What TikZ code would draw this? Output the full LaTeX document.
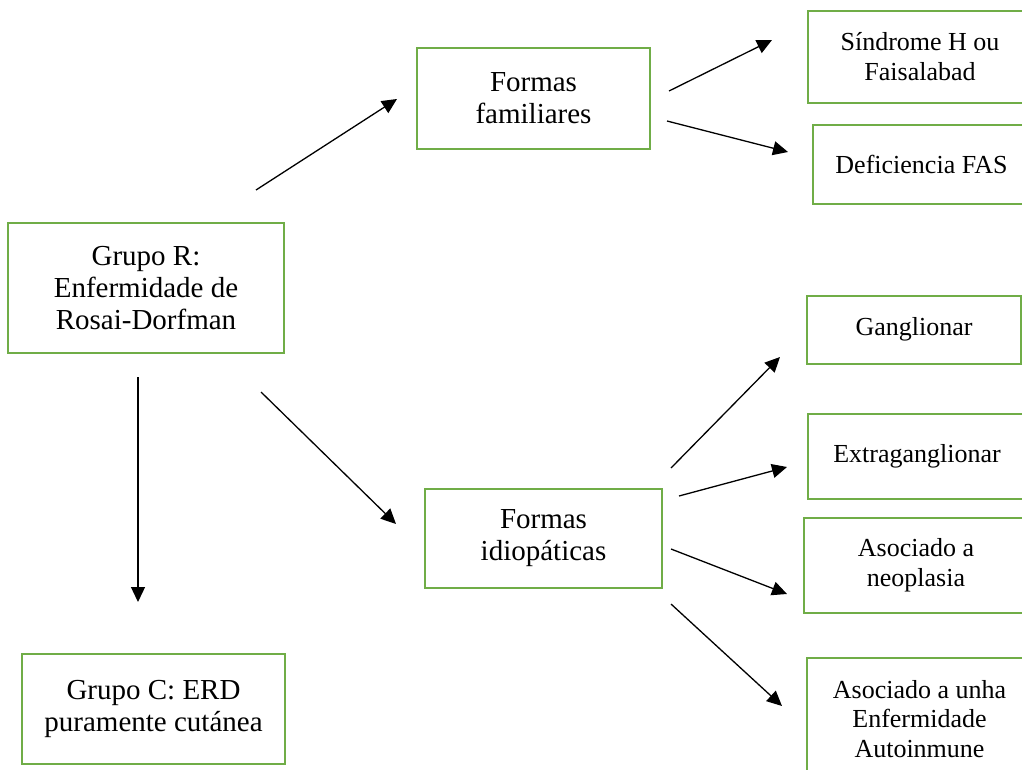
\documentclass[tikz,border=0pt]{standalone}
\usepackage{fontspec}
\setmainfont{Liberation Serif}
\usetikzlibrary{arrows.meta}
\definecolor{boxgreen}{HTML}{70AD47}
\tikzset{
  box/.style={draw=boxgreen, line width=2pt, fill=white, inner sep=0pt, align=center,
    font=\fontsize{29}{32}\selectfont},
  sbox/.style={box, font=\fontsize{26}{29.5}\selectfont},
  arr/.style={line width=1.3pt, -{Triangle[length=15pt,width=14pt]}}
}
\begin{document}
\begin{tikzpicture}[x=1pt,y=-1pt]
\useasboundingbox (0,0) rectangle (1022,769);
\clip (0,0) rectangle (1022,769);
\fill[white] (0,0) rectangle (1022,769);
% main boxes
\node[box, minimum width=276pt, minimum height=130pt] (R) at (146,288) {Grupo R:\\Enfermidade de\\Rosai-Dorfman};
\node[box, minimum width=233pt, minimum height=101pt] (FF) at (533.5,98) {Formas\\familiares};
\node[box, minimum width=237pt, minimum height=99pt] (FI) at (543.5,538) {Formas\\idiopáticas};
\node[box, minimum width=263pt, minimum height=110pt] (C) at (153.5,708.5) {Grupo C: ERD\\puramente cutánea};
% right boxes
\node[sbox, minimum width=224pt, minimum height=92pt] (S) at (920,56.5) {Síndrome H ou\\Faisalabad};
\node[sbox, minimum width=217pt, minimum height=79pt] (D) at (921.5,164) {Deficiencia FAS};
\node[sbox, minimum width=214pt, minimum height=68pt] (G) at (914,329.5) {Ganglionar};
\node[sbox, minimum width=218pt, minimum height=85pt] (E) at (917,456) {Extraganglionar};
\node[sbox, minimum width=224pt, minimum height=95pt] (N) at (916,565) {Asociado a\\neoplasia};
\node[sbox, minimum width=225pt, minimum height=123pt] (A) at (919.5,719) {Asociado a unha\\Enfermidade\\Autoinmune};
% arrow end points
\coordinate (r1s) at (256,190); \coordinate (r1e) at (397,99);
\coordinate (r2s) at (261,392); \coordinate (r2e) at (396,524);
\coordinate (r3s) at (138,377); \coordinate (r3e) at (138,602);
\coordinate (f1s) at (669,91);  \coordinate (f1e) at (772,40);
\coordinate (f2s) at (667,121); \coordinate (f2e) at (788,152);
\coordinate (i1s) at (671,468); \coordinate (i1e) at (780,357);
\coordinate (i2s) at (679,496); \coordinate (i2e) at (787,467);
\coordinate (i3s) at (671,549); \coordinate (i3e) at (787,594);
\coordinate (i4s) at (671,604); \coordinate (i4e) at (782,706);
\draw[arr] (r1s) -- (r1e);
\draw[arr] (r2s) -- (r2e);
\draw[arr] (r3s) -- (r3e);
\draw[arr] (f1s) -- (f1e);
\draw[arr] (f2s) -- (f2e);
\draw[arr] (i1s) -- (i1e);
\draw[arr] (i2s) -- (i2e);
\draw[arr] (i3s) -- (i3e);
\draw[arr] (i4s) -- (i4e);
\end{tikzpicture}
\end{document}
